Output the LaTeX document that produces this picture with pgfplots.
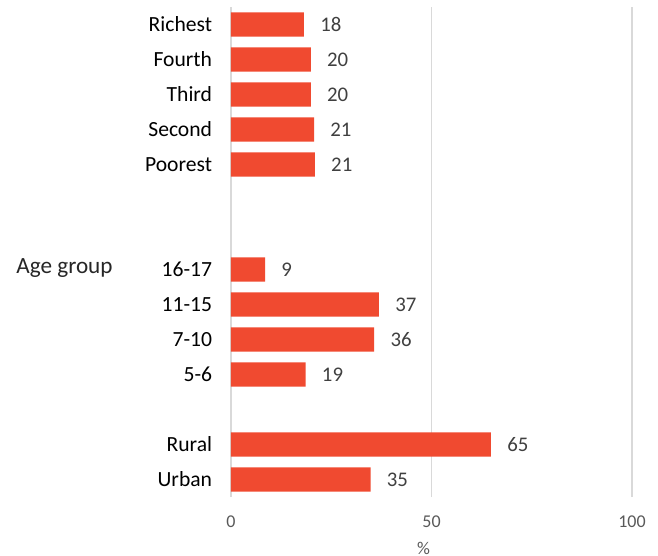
\documentclass[border=0pt]{standalone}
\usepackage{pgfplots}
\pgfplotsset{compat=1.18}
\usepackage{fontspec}
\setmainfont{Carlito}
\definecolor{barc}{RGB}{240,74,48}
\definecolor{gridc}{RGB}{217,217,217}
\definecolor{valc}{RGB}{64,64,64}
\definecolor{tickc}{RGB}{89,89,89}
\begin{document}
\begin{tikzpicture}
\begin{axis}[
  xbar, scale only axis, width=200.5pt, height=245pt,
  xmin=0, xmax=100, ymin=-0.5, ymax=13.5,
  axis line style={draw=none}, tick style={draw=none},
  xmajorgrids, major grid style={gridc, line width=0.8pt},
  xtick={0,50,100},
  ytick={0,1,3,4,5,6,9,10,11,12,13},
  yticklabels={Urban,Rural,5-6,7-10,11-15,16-17,Poorest,Second,Third,Fourth,Richest},
  yticklabel style={font=\fontsize{10.8pt}{12pt}\selectfont, text=black, inner sep=0pt, xshift=-5pt},
  xticklabel style={font=\fontsize{9pt}{11pt}\selectfont, text=tickc, yshift=-6pt},
  /pgf/number format/assume math mode=true,
  bar width=0.69,
  nodes near coords, point meta=explicit symbolic,
  nodes near coords style={anchor=west, inner sep=0pt, xshift=8pt, font=\fontsize{10.4pt}{12pt}\selectfont, text=valc},
  clip=false,
]
\addplot[fill=barc, draw=none] table[x=x, y=y, meta=lab] {
x y lab
34.8 0 35
64.8 1 65
18.6 3 19
35.7 4 36
36.9 5 37
8.5 6 9
20.9 9 21
20.7 10 21
19.9 11 20
19.9 12 20
18.2 13 18
};
\coordinate (SW) at (rel axis cs:0,0);
\node[anchor=west, inner sep=0pt, font=\fontsize{11.6pt}{13pt}\selectfont, text=black!85] at (axis cs:0,6) [xshift=-107.5pt, yshift=0.5pt] {Age group};
\node[anchor=center, inner sep=0pt, font=\fontsize{9pt}{11pt}\selectfont, text=tickc] at (rel axis cs:0.5,0) [xshift=-4pt, yshift=-25.5pt] {\%};
\end{axis}
\pgfresetboundingbox
\path (SW) ++(-115.5pt,-29.5pt) rectangle ++(329pt,278pt);
\end{tikzpicture}
\end{document}
